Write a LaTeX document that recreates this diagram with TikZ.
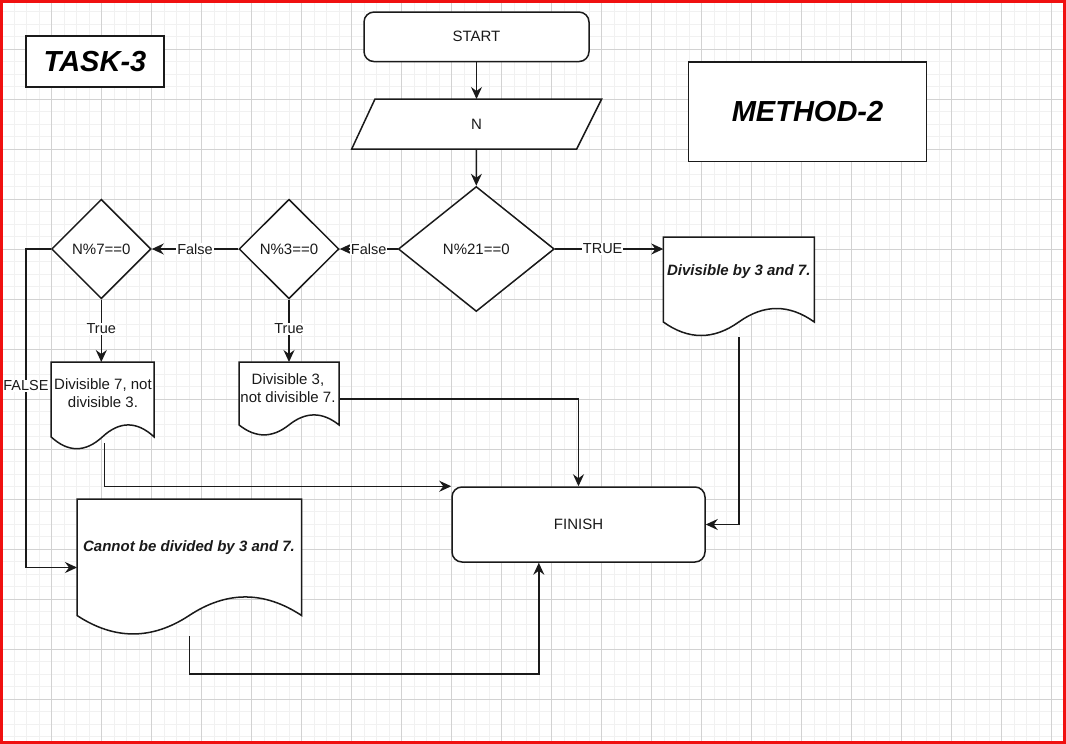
\documentclass[tikz,border=0pt]{standalone}
\usepackage{fontspec}
\setmainfont{Liberation Sans}
\usetikzlibrary{shapes.geometric,arrows.meta,calc}
\definecolor{ink}{HTML}{1A1A1A}
\definecolor{gminor}{HTML}{F1F1F1}
\definecolor{gmajor}{HTML}{D2D2D2}
\definecolor{frame}{HTML}{F01010}
% document outline: x0 y0 w h
\newcommand\docoutline[4]{%
  \draw[shp] (#1,#2) -- ({#1+#3},#2) -- ({#1+#3},{#2+0.85*#4})
    .. controls ({#1+0.8333*#3},{#2+0.67*#4}) and ({#1+0.6667*#3},{#2+0.67*#4}) .. ({#1+0.5*#3},{#2+0.85*#4})
    .. controls ({#1+0.3333*#3},{#2+1.03*#4}) and ({#1+0.1667*#3},{#2+1.03*#4}) .. (#1,{#2+0.85*#4}) -- cycle;}
\tikzset{
  shp/.style={draw=ink, fill=white, line width=1.5pt},
  txt/.style={text=ink, font=\fontsize{15}{18}\selectfont, align=center, inner sep=0pt},
  btxt/.style={txt, font=\fontsize{15}{18}\selectfont\bfseries\itshape},
  ghost/.style={rectangle, draw=none, inner sep=0pt, outer sep=0pt},
  roundbox/.style={shp, rectangle, rounded corners=10pt, inner sep=0pt, txt},
  titlebox/.style={shp, rectangle, inner sep=0pt, text=black, font=\fontsize{29}{34}\selectfont\bfseries\itshape},
  dia/.style={shp, diamond, inner sep=0pt, txt},
  conn/.style={draw=ink, line width=1.5pt},
  arr/.style={conn, -{Stealth[length=12pt,width=11pt,inset=4pt]}},
  lbl/.style={fill=white, text=ink, inner sep=0.8pt, font=\fontsize{14.5}{17}\selectfont},
}
\begin{document}
\begin{tikzpicture}[x=1pt,y=-1pt]
\useasboundingbox (0,0) rectangle (1066,744);
% grid
\foreach \i in {0,...,85} {\draw[gminor, line width=0.8pt] ({1.7+12.5*\i},0) -- ({1.7+12.5*\i},744);}
\foreach \i in {1,...,59} {\draw[gminor, line width=0.8pt] (0,{-0.7+12.5*\i}) -- (1066,{-0.7+12.5*\i});}
\foreach \i in {0,...,21} {\draw[gmajor, line width=0.8pt] ({1.7+50*\i},0) -- ({1.7+50*\i},744);}
\foreach \i in {1,...,14} {\draw[gmajor, line width=0.8pt] (0,{-0.7+50*\i}) -- (1066,{-0.7+50*\i});}
% frame
\draw[frame, line width=2.8pt] (1.4,1.4) rectangle (1064.6,742.6);

% titles
\node[titlebox, minimum width=138pt, minimum height=51pt] (task) at (95,61.5) {TASK-3};
\node[titlebox, minimum width=238pt, minimum height=99.5pt] (method) at (807.5,111.8) {METHOD-2};

% start / input
\node[roundbox, minimum width=225pt, minimum height=49.5pt] (start) at (476.5,36.8) {START};
\draw[shp] (375,99) -- (601.7,99) -- (576.7,149) -- (351.7,149) -- cycle;
\node[ghost, txt, minimum width=226pt, minimum height=50pt] (n) at (476.5,124) {N};

% decisions
\node[dia, minimum width=156pt, minimum height=125pt] (d21) at (476.3,249) {N\%21==0};
\node[dia, minimum width=100pt, minimum height=99.5pt] (d3) at (289,249) {N\%3==0};
\node[dia, minimum width=99.5pt, minimum height=99.5pt] (d7) at (101.3,249) {N\%7==0};

% documents
\docoutline{663.3}{237}{151}{100}
\node[ghost, minimum width=151pt, minimum height=100pt] (dA) at (738.8,287) {};
\node[btxt] (tA) at (738.8,272) {Divisible by 3 and 7.};

\docoutline{51}{362}{103}{88}
\node[ghost, minimum width=103pt, minimum height=88pt] (dB) at (102.5,406) {};
\node[txt] (tB) at (103,393) {Divisible 7, not\\divisible 3.};

\docoutline{239}{362}{100}{74}
\node[ghost, minimum width=100pt, minimum height=74pt] (dC) at (289,399) {};
\node[txt] (tC) at (288,388.3) {Divisible 3,\\not divisible 7.};

\docoutline{77}{499}{224.5}{137}
\node[ghost, minimum width=224.5pt, minimum height=137pt] (dD) at (189.25,567.5) {};
\node[btxt] (tD) at (189,548) {Cannot be divided by 3 and 7.};

% finish
\node[roundbox, minimum width=253pt, minimum height=75pt] (finish) at (578.5,524.5) {FINISH};

% helper coordinates
\coordinate (fx) at (26,249);
\coordinate (bout) at (104.7,443);
\coordinate (dlow) at (189.25,674);
\coordinate (fin) at ($(finish.south west)!0.344!(finish.south east)$);

% connectors
\draw[arr] (start.south) -- (n.north);
\draw[arr] (n.south) -- (d21.north);
\draw[arr] (d21.east) -- node[lbl, pos=0.44] {TRUE} (d21.east -| dA.west);
\draw[arr] (d21.west) -- node[lbl, pos=0.5] {False} (d3.east);
\draw[arr] (d3.west) -- node[lbl, pos=0.5] {False} (d7.east);
\draw[arr] (d7.south) -- node[lbl, pos=0.47] {True} (d7.south |- dB.north);
\draw[arr] (d3.south) -- node[lbl, pos=0.47] {True} (d3.south |- dC.north);
\draw[arr] (d7.west) -- (fx) -- node[lbl, pos=0.43] {FALSE} (fx |- dD.west) -- (dD.west);
\draw[arr] (bout) |- (finish.north west);
\draw[arr] (dC.east) -| (finish.north);
\draw[arr] (dA.south) |- (finish.east);
\draw[arr] (dD.south) -- (dlow) -| (fin);
\end{tikzpicture}
\end{document}
